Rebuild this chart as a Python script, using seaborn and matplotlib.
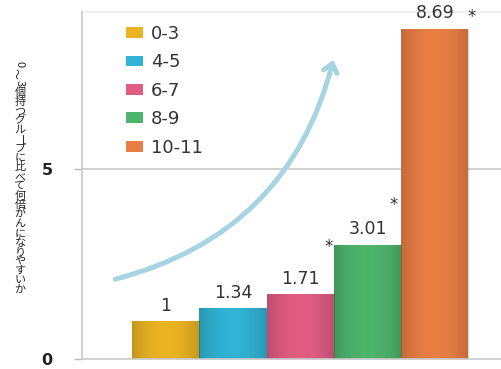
import matplotlib
matplotlib.use("Agg")
import matplotlib.pyplot as plt
import seaborn as sns
import pandas as pd
import numpy as np
from matplotlib.patches import FancyArrowPatch

groups = ["0-3", "4-5", "6-7", "8-9", "10-11"]
values = [1.0, 1.34, 1.71, 3.01, 8.69]
value_labels = ["1", "1.34", "1.71", "3.01", "8.69"]
colors = ["#EAB322", "#30B3D4", "#E05C82", "#4DB46C", "#E97E45"]
ylabel_text = "0～3個持つグループに比べて何倍がんになりやすいか"
yticks = [0, 5]

sns.set_theme(style="white")
plt.rcParams['font.family'] = ['DejaVu Sans', 'Noto Sans CJK JP']

df = pd.DataFrame({"x": ["all"] * len(groups), "group": groups, "value": values})

fig = plt.figure(figsize=(5.02, 3.69), dpi=100)
ax = fig.add_axes([0.163, 0.027, 0.837, 0.9404])

sns.barplot(data=df, x="x", y="value", hue="group", hue_order=groups,
            palette=colors, saturation=1, width=0.8, ax=ax, legend=True,
            linewidth=0)

ax.set_xlabel("")
ax.set_ylabel("")
ax.set_xticks([])
ax.set_yticks(yticks)
ax.set_yticklabels([str(t) for t in yticks], fontsize=11.5, fontweight="bold", color="#222222")
ax.tick_params(axis="y", length=6, width=1, color="#BBBBBB", pad=15, left=True)

for s in ["top", "right"]:
    ax.spines[s].set_visible(False)
ax.spines["left"].set_color("#C8C8C8")
ax.spines["bottom"].set_color("#C8C8C8")
ax.spines["left"].set_linewidth(1.2)
ax.spines["bottom"].set_linewidth(1.2)
ax.axhline(5, color="#C8C8C8", lw=1.2, zorder=0)
ax.axhline(9.13, color="#EEEEEE", lw=1.2, zorder=0, clip_on=False)

patches = sorted([p for p in ax.patches if p.get_height() > 0], key=lambda p: p.get_x())
patches = patches[:len(values)]

# subtle shading on the bars
xs = np.linspace(-1, 1, 80)
shade = np.zeros((1, 80, 4))
shade[0, :, 3] = 0.16 * np.abs(xs) ** 2
for p in patches:
    x0, w, h = p.get_x(), p.get_width(), p.get_height()
    im = ax.imshow(shade, extent=(x0, x0 + w, 0, h), aspect="auto", zorder=p.get_zorder() + 0.1,
                   interpolation="bilinear")
    im.set_clip_path(p)
ax.set_xlim(-0.52, 0.48)
ax.set_ylim(0, 9.13)

# value labels and asterisks
for p, lab in zip(patches, value_labels):
    cx = p.get_x() + p.get_width() / 2
    ax.text(cx, p.get_height() + 0.17, lab, ha="center", va="bottom",
            fontsize=12.5, color="#333333")
p4, p5 = patches[3], patches[4]
ax.text(p4.get_x() - 0.012, p4.get_height() - 0.05, "*", ha="center", va="center",
        fontsize=12, color="#333333")
ax.text(p5.get_x() - 0.017, 4.05, "*", ha="center", va="center",
        fontsize=12, color="#333333")
ax.text(p5.get_x() + p5.get_width() + 0.008, 9.0, "*", ha="center",
        va="center", fontsize=12, color="#333333")

# legend
leg = ax.legend(loc="upper left", bbox_to_anchor=(0.105, 0.963), frameon=False,
                fontsize=13, handlelength=0.95, handleheight=0.55, handletextpad=0.45,
                labelspacing=0.58, borderaxespad=0, borderpad=0)
for t in leg.get_texts():
    t.set_color("#333333")

# curved arrow (decorative)
arr = FancyArrowPatch((0.073, 0.228), (0.6, 0.87), transform=ax.transAxes,
                      connectionstyle="arc3,rad=0.3",
                      arrowstyle="->,head_length=6,head_width=5",
                      color="#A6D4E3", lw=3.6, zorder=1)
ax.add_patch(arr)

# vertical y label (stacked characters)
for i, ch in enumerate(ylabel_text):
    rot = 0
    if ch in "0123456789ー":
        rot = -90
    elif ch == "～":
        rot = 90
    fig.text(20 / 502, 1 - (64 + i * 9.4) / 369, ch, ha="center", va="center",
             fontsize=8, rotation=rot, color="#222222",
             family=["Noto Sans CJK JP", "DejaVu Sans"])

fig.savefig("out.png", dpi=100)
